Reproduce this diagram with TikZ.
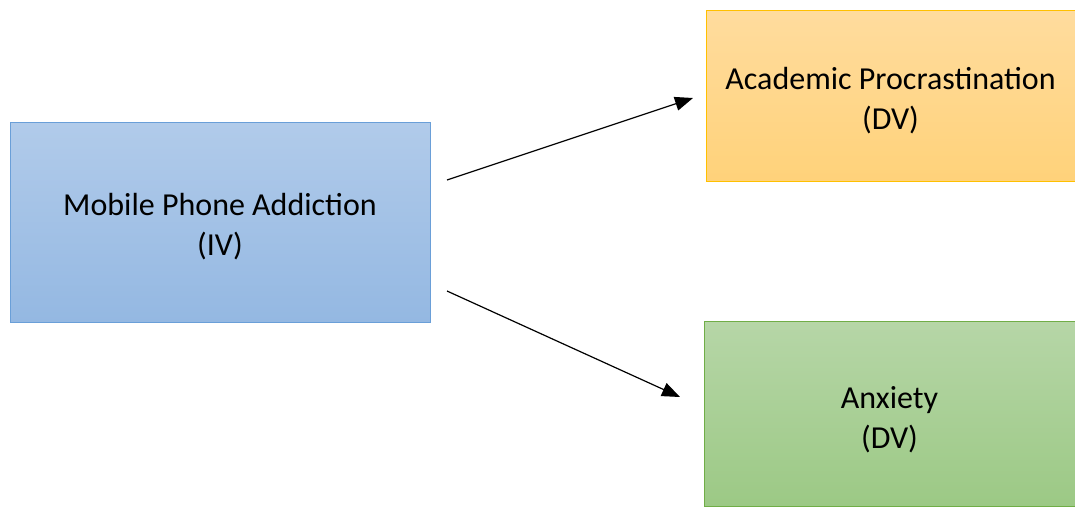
\documentclass[tikz,border=0pt]{standalone}
\usepackage{fontspec}
\setmainfont{Carlito}
\usetikzlibrary{arrows.meta}
\definecolor{bluetop}{HTML}{B1CBEA}
\definecolor{bluebot}{HTML}{94B8E2}
\definecolor{blueline}{HTML}{6A9FD8}
\definecolor{orgtop}{HTML}{FFDC9E}
\definecolor{orgbot}{HTML}{FFD27A}
\definecolor{orgline}{HTML}{FFC000}
\definecolor{grntop}{HTML}{B6D6A7}
\definecolor{grnbot}{HTML}{9CC985}
\definecolor{grnline}{HTML}{70AD47}
\newcommand{\toppad}{\rule{0pt}{32pt}}
\tikzset{
  box/.style={draw, line width=0.9pt, minimum width=#1, align=center,
    font=\fontsize{32}{40}\selectfont, inner sep=0pt},
  conn/.style={line width=1.2pt, -{Triangle[length=18pt,width=14pt]}}
}
\begin{document}
\begin{tikzpicture}[x=1pt,y=-1pt]
\useasboundingbox (0,0) rectangle (1075,507);
\node[box=420pt, minimum height=200pt, top color=bluetop, bottom color=bluebot, draw=blueline]
  (iv) at (220,222) {\toppad Mobile Phone Addiction\\(IV)};
\node[box=369pt, minimum height=171pt, top color=orgtop, bottom color=orgbot, draw=orgline]
  (ap) at (890.5,95.5) {\toppad Academic Procrastination\\(DV)};
\node[box=371pt, minimum height=185pt, top color=grntop, bottom color=grnbot, draw=grnline]
  (ax) at (889.5,413.5) {\rule{0pt}{34pt}Anxiety\\(DV)};
\coordinate (s1) at (447,180);
\coordinate (e1) at (693,98);
\coordinate (s2) at (447,291);
\coordinate (e2) at (680,397);
\draw[conn] (s1) -- (e1);
\draw[conn] (s2) -- (e2);
\end{tikzpicture}
\end{document}
